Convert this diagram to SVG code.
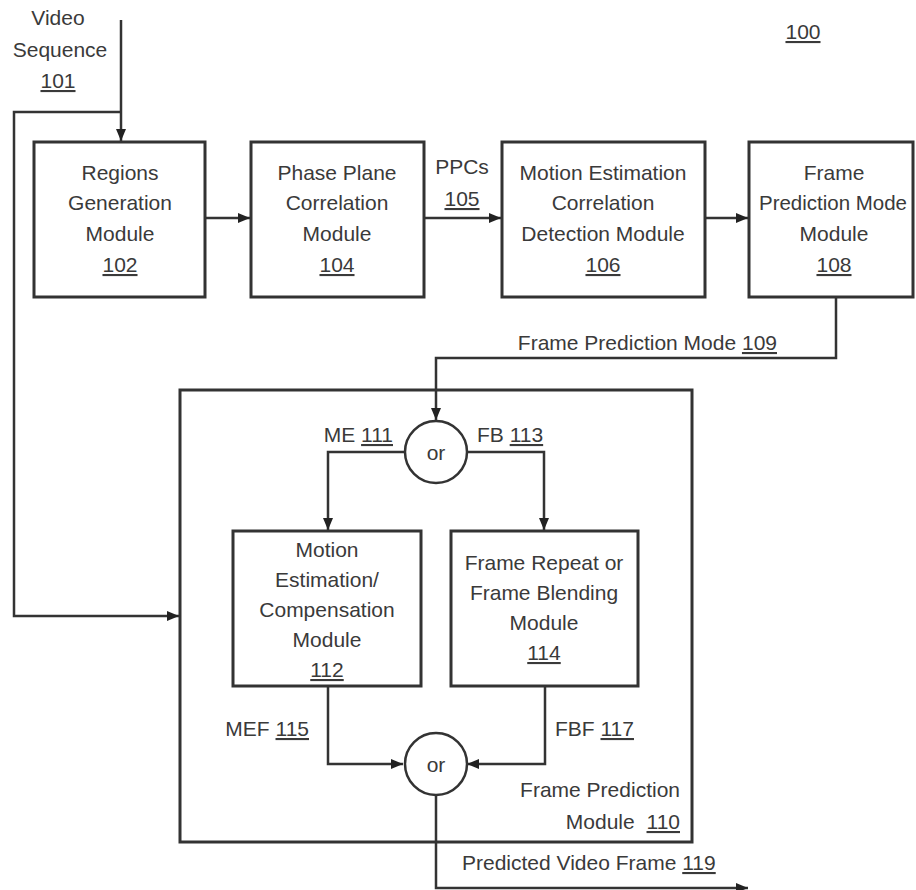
<svg xmlns="http://www.w3.org/2000/svg" width="916" height="890" viewBox="0 0 916 890">
<style>
text{font-family:"Liberation Sans",Arial,sans-serif;font-size:21px;fill:#3a3a3a}
.c{text-anchor:middle}
.e{text-anchor:end}
.u{text-decoration:underline}
.box{fill:#fff;stroke:#333;stroke-width:3}
.frame{fill:none;stroke:#333;stroke-width:3}
.ln{fill:none;stroke:#333;stroke-width:2.5}
.cir{fill:#fff;stroke:#333;stroke-width:2.5}
</style>
<defs>
<marker id="ah" viewBox="0 0 12 10" refX="12" refY="5" markerWidth="12" markerHeight="10" markerUnits="userSpaceOnUse" orient="auto">
<path d="M0,0 L12,5 L0,10 Z" fill="#222"/>
</marker>
</defs>
<rect width="916" height="890" fill="#fff"/>

<g id="connectors">
<path class="ln" d="M121,20 V141" marker-end="url(#ah)"/>
<path class="ln" d="M121,112 H14 V616 H179" marker-end="url(#ah)"/>
<path class="ln" d="M205,218 H250" marker-end="url(#ah)"/>
<path class="ln" d="M424,218 H501" marker-end="url(#ah)"/>
<path class="ln" d="M705,218 H748" marker-end="url(#ah)"/>
<path class="ln" d="M836,298 V358 H436 V420" marker-end="url(#ah)"/>
<path class="ln" d="M404,452 H328 V530" marker-end="url(#ah)"/>
<path class="ln" d="M467,452 H544 V530" marker-end="url(#ah)"/>
<path class="ln" d="M328,686 V764 H403" marker-end="url(#ah)"/>
<path class="ln" d="M545,686 V764 H467" marker-end="url(#ah)"/>
<path class="ln" d="M436,795 V888 H748" marker-end="url(#ah)"/>
</g>

<g id="labels">
<text class="c" x="58" y="25">Video</text>
<text class="c" x="60" y="57">Sequence</text>
<text class="c u" x="58" y="88">101</text>
<text class="c u" x="803" y="39">100</text>
<text class="c" x="462" y="174">PPCs</text>
<text class="c u" x="462" y="206">105</text>
<text class="e" x="777" y="350">Frame Prediction Mode <tspan class="u">109</tspan></text>
<text class="e" x="393" y="442">ME <tspan class="u">111</tspan></text>
<text x="477" y="442">FB <tspan class="u">113</tspan></text>
<text class="e" x="309" y="736">MEF <tspan class="u">115</tspan></text>
<text x="555" y="736">FBF <tspan class="u">117</tspan></text>
<text x="462" y="870">Predicted Video Frame <tspan class="u">119</tspan></text>
</g>

<g id="node-102">
<rect class="box" x="34" y="142" width="171" height="155"/>
<text class="c" x="120" y="180">Regions</text>
<text class="c" x="120" y="210">Generation</text>
<text class="c" x="120" y="241">Module</text>
<text class="c u" x="120" y="272">102</text>
</g>

<g id="node-104">
<rect class="box" x="251" y="142" width="173" height="155"/>
<text class="c" x="337" y="180">Phase Plane</text>
<text class="c" x="337" y="210">Correlation</text>
<text class="c" x="337" y="241">Module</text>
<text class="c u" x="337" y="272">104</text>
</g>

<g id="node-106">
<rect class="box" x="502" y="142" width="203" height="155"/>
<text class="c" x="603" y="180">Motion Estimation</text>
<text class="c" x="603" y="210">Correlation</text>
<text class="c" x="603" y="241">Detection Module</text>
<text class="c u" x="603" y="272">106</text>
</g>

<g id="node-108">
<rect class="box" x="749" y="142" width="164" height="155"/>
<text class="c" x="834" y="180">Frame</text>
<text class="c" x="833" y="210" textLength="148" lengthAdjust="spacingAndGlyphs">Prediction Mode</text>
<text class="c" x="834" y="241">Module</text>
<text class="c u" x="834" y="272">108</text>
</g>

<g id="node-110">
<rect class="frame" x="180" y="390" width="512" height="452"/>
<text class="e" x="680" y="797">Frame Prediction</text>
<text class="e" x="680" y="829">Module <tspan class="u" dx="6">110</tspan></text>
</g>

<g id="node-or1">
<circle class="cir" cx="436" cy="452" r="31"/>
<text class="c" x="436" y="460">or</text>
</g>

<g id="node-112">
<rect class="box" x="233" y="531" width="188" height="155"/>
<text class="c" x="327" y="557">Motion</text>
<text class="c" x="327" y="587">Estimation/</text>
<text class="c" x="327" y="617">Compensation</text>
<text class="c" x="327" y="647">Module</text>
<text class="c u" x="327" y="677">112</text>
</g>

<g id="node-114">
<rect class="box" x="451" y="531" width="187" height="155"/>
<text class="c" x="544" y="570">Frame Repeat or</text>
<text class="c" x="544" y="600">Frame Blending</text>
<text class="c" x="544" y="630">Module</text>
<text class="c u" x="544" y="660">114</text>
</g>

<g id="node-or2">
<circle class="cir" cx="436" cy="764" r="31"/>
<text class="c" x="436" y="772">or</text>
</g>
</svg>
